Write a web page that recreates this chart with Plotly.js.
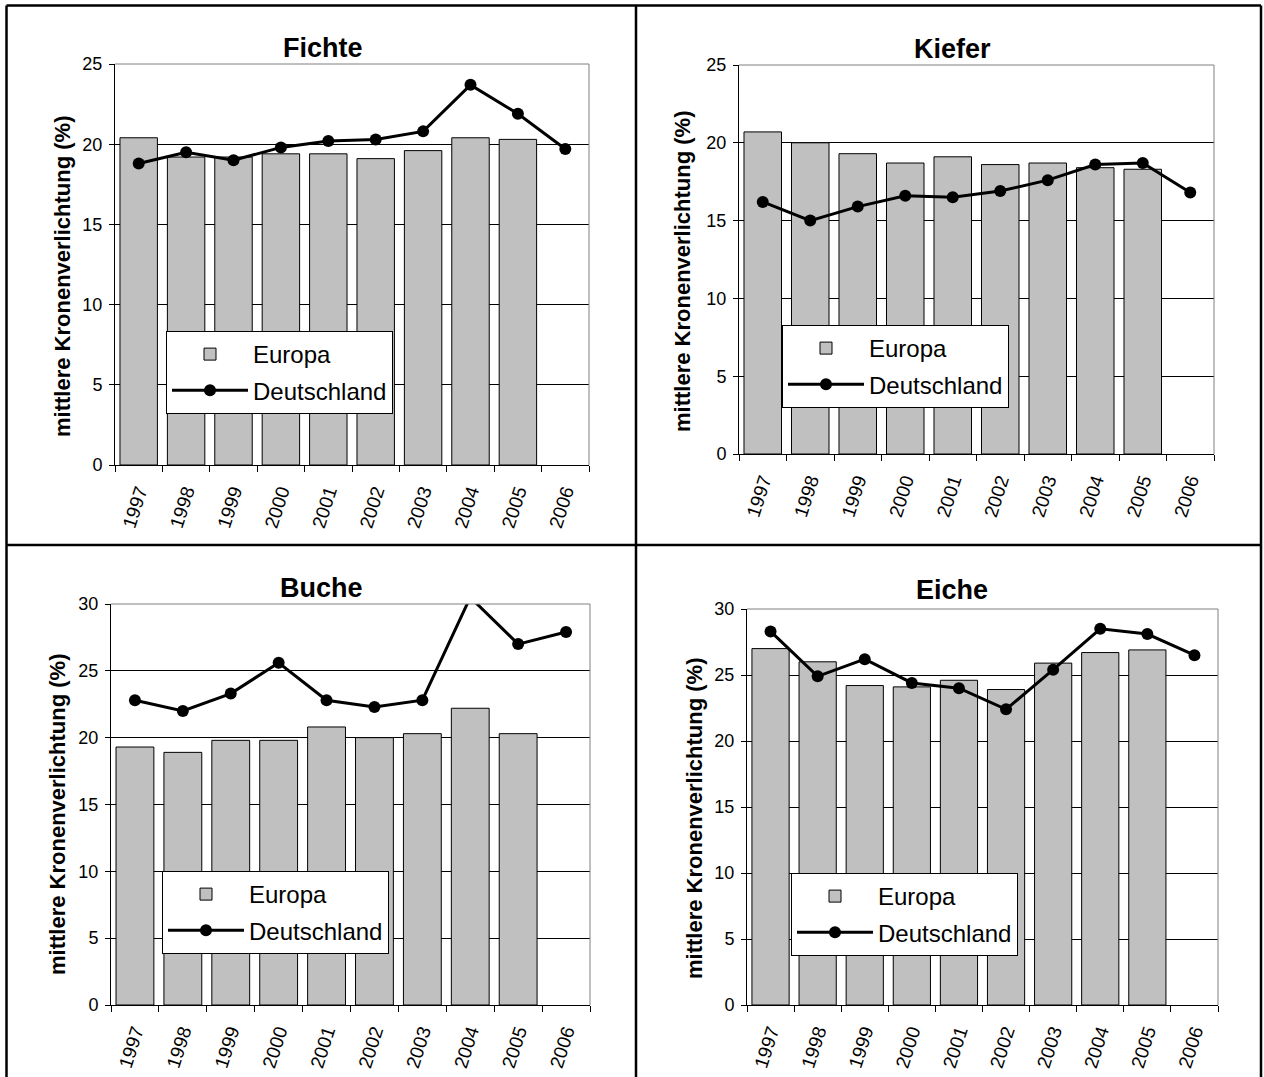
<!DOCTYPE html>
<html>
<head>
<meta charset="utf-8">
<script src="https://cdn.plot.ly/plotly-3.0.1.min.js"></script>
<style>
  html, body { margin: 0; padding: 0; background: #fff; }
  #chart { width: 1264px; height: 1077px; }
</style>
</head>
<body>
<div id="chart"></div>
<script>
// Mittlere Kronenverlichtung 1997-2006, Europa vs. Deutschland
const years = ['1997', '1998', '1999', '2000', '2001', '2002', '2003', '2004', '2005', '2006'];

const fichteEuropa = [20.4, 19.2, 19.2, 19.4, 19.4, 19.1, 19.6, 20.4, 20.3, null];
const fichteDeutschland = [18.8, 19.5, 19.0, 19.8, 20.2, 20.3, 20.8, 23.7, 21.9, 19.7];

const kieferEuropa = [20.7, 20.0, 19.3, 18.7, 19.1, 18.6, 18.7, 18.4, 18.3, null];
const kieferDeutschland = [16.2, 15.0, 15.9, 16.6, 16.5, 16.9, 17.6, 18.6, 18.7, 16.8];

const bucheEuropa = [19.3, 18.9, 19.8, 19.8, 20.8, 20.0, 20.3, 22.2, 20.3, null];
const bucheDeutschland = [22.8, 22.0, 23.3, 25.6, 22.8, 22.3, 22.8, 30.5, 27.0, 27.9];

const eicheEuropa = [27.0, 26.0, 24.2, 24.1, 24.6, 23.9, 25.9, 26.7, 26.9, null];
const eicheDeutschland = [28.3, 24.9, 26.2, 24.4, 24.0, 22.4, 25.4, 28.5, 28.1, 26.5];

const yTitle = 'mittlere Kronenverlichtung (%)';
const seriesNames = ['Europa', 'Deutschland'];

const W = 1264, H = 1077;
const FONT = "'Liberation Sans', Arial, sans-serif";
const px = v => v / W;          // horizontal pixel -> paper
const py = v => 1 - v / H;      // vertical pixel -> paper

// Panel geometry (pixels): plot box, title and legend placement
const panels = [
  { name: 'Fichte', eu: fichteEuropa, de: fichteDeutschland, ymax: 25,
    box: [115, 589, 64, 465], title: [323, 48], ytitle: [62, 277], legend: [166, 331] },
  { name: 'Kiefer', eu: kieferEuropa, de: kieferDeutschland, ymax: 25,
    box: [739, 1214, 65, 454], title: [952, 49], ytitle: [682, 272], legend: [782, 325] },
  { name: 'Buche', eu: bucheEuropa, de: bucheDeutschland, ymax: 30,
    box: [111, 590, 604, 1005], title: [321, 588], ytitle: [57, 815], legend: [162, 871] },
  { name: 'Eiche', eu: eicheEuropa, de: eicheDeutschland, ymax: 30,
    box: [747, 1218, 609, 1005], title: [952, 590], ytitle: [694, 819], legend: [791, 873] }
];

const traces = [];
const layout = {
  width: W, height: H,
  margin: { l: 0, r: 0, t: 0, b: 0, pad: 0 },
  paper_bgcolor: '#fff', plot_bgcolor: '#fff',
  font: { family: FONT, color: '#000', size: 18 },
  bargap: 0.21,
  showlegend: true,
  annotations: [],
  shapes: []
};

panels.forEach((p, i) => {
  const n = i + 1;
  const sfx = n === 1 ? '' : String(n);
  const xa = 'x' + sfx, ya = 'y' + sfx;
  const legendId = 'legend' + sfx;
  const [x0, x1, y0, y1] = p.box;

  traces.push({
    type: 'bar', x: years, y: p.eu, name: seriesNames[0],
    xaxis: xa, yaxis: ya, legend: legendId, legendgroup: 'eu' + n,
    marker: { color: '#c0c0c0', line: { color: '#000', width: 1 } },
    hoverinfo: 'x+y'
  });
  traces.push({
    type: 'scatter', mode: 'lines+markers', x: years, y: p.de, name: seriesNames[1],
    xaxis: xa, yaxis: ya, legend: legendId, legendgroup: 'de' + n,
    line: { color: '#000', width: 3 },
    marker: { color: '#000', size: 12, symbol: 'circle' },
    hoverinfo: 'x+y'
  });

  layout['xaxis' + sfx] = {
    domain: [px(x0), px(x1)], anchor: ya,
    type: 'category', categoryorder: 'array', categoryarray: years,
    range: [-0.5, years.length - 0.5], autorange: false,
    tickson: 'boundaries', ticks: 'outside', ticklen: 6, tickcolor: '#000',
    tickangle: -72, ticklabelstandoff: 7,
    tickfont: { family: FONT, size: 19, color: '#000' },
    showline: true, linecolor: '#000', linewidth: 1,
    showgrid: false, zeroline: false, fixedrange: true
  };
  layout['yaxis' + sfx] = {
    domain: [py(y1), py(y0)], anchor: xa,
    range: [0, p.ymax], autorange: false, dtick: 5, tick0: 0,
    ticks: 'outside', ticklen: 5, tickcolor: '#000', ticklabelstandoff: 3,
    tickfont: { family: FONT, size: 18, color: '#000' },
    showline: true, linecolor: '#000', linewidth: 1,
    showgrid: true, gridcolor: '#000', gridwidth: 1,
    zeroline: false, fixedrange: true
  };

  layout[legendId] = {
    x: px(p.legend[0]), y: py(p.legend[1]), xanchor: 'left', yanchor: 'top',
    xref: 'paper', yref: 'paper',
    bgcolor: '#fff', bordercolor: '#000', borderwidth: 1,
    font: { family: FONT, size: 24, color: '#000' },
    traceorder: 'grouped', tracegroupgap: 2, itemwidth: 76
  };

  // chart title
  layout.annotations.push({
    xref: 'paper', yref: 'paper', x: px(p.title[0]), y: py(p.title[1]),
    xanchor: 'center', yanchor: 'middle', showarrow: false,
    text: '<b>' + p.name + '</b>', font: { family: FONT, size: 27, color: '#000' }
  });
  // y axis title
  layout.annotations.push({
    xref: 'paper', yref: 'paper', x: px(p.ytitle[0]), y: py(p.ytitle[1]),
    xanchor: 'center', yanchor: 'middle', showarrow: false, textangle: -90,
    text: '<b>' + yTitle + '</b>', font: { family: FONT, size: 22, color: '#000' }
  });

  // grey plot-area outline on the top and right
  layout.shapes.push({
    type: 'line', xref: xa + ' domain', yref: ya + ' domain',
    x0: 0, x1: 1, y0: 1, y1: 1, line: { color: '#808080', width: 1 }
  });
  layout.shapes.push({
    type: 'line', xref: xa + ' domain', yref: ya + ' domain',
    x0: 1, x1: 1, y0: 0, y1: 1, line: { color: '#808080', width: 1 }
  });
});

// outer frame dividing the four panels
const frame = { color: '#000', width: 2.5 };
[
  [6.5, 6.5, 5.5, H], [636, 636, 5.5, H], [1261, 1261, 5.5, H],
  [6.5, 1261, 5.5, 5.5], [6.5, 1261, 545, 545]
].forEach(([xa0, xa1, ya0, ya1]) => {
  layout.shapes.push({
    type: 'line', xref: 'paper', yref: 'paper',
    x0: px(xa0), x1: px(xa1), y0: py(ya0), y1: py(ya1), line: frame
  });
});

Plotly.newPlot('chart', traces, layout, { staticPlot: true, displayModeBar: false });
</script>
</body>
</html>
